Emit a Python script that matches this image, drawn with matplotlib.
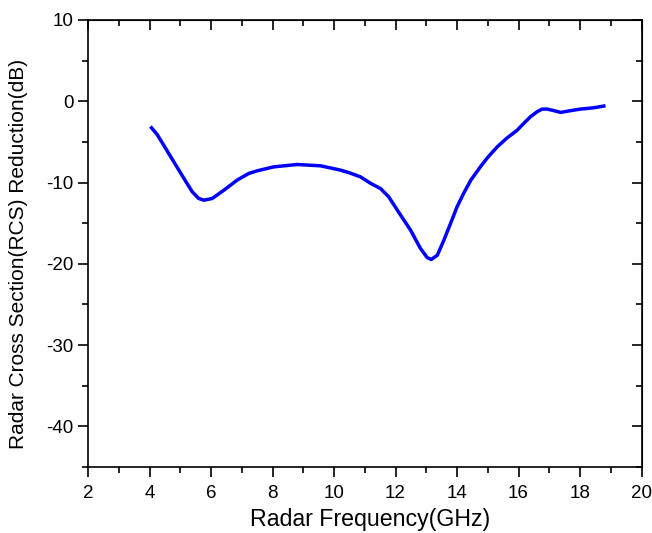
import matplotlib.pyplot as plt

plt.rcParams['font.family'] = ['Liberation Sans', 'DejaVu Sans']
plt.rcParams['axes.unicode_minus'] = False

# values
freq = [4.03, 4.25, 4.46, 4.79, 5.12, 5.39, 5.6, 5.77, 6.04, 6.42, 6.85, 7.23,
        7.5, 8.04, 8.8, 9.56, 10.21, 10.5, 10.86, 11.19, 11.51, 11.78, 12.06,
        12.27, 12.49, 12.81, 13.03, 13.16, 13.36, 13.55, 13.79, 14.0, 14.22,
        14.45, 14.76, 15.0, 15.31, 15.6, 15.96, 16.15, 16.39, 16.6, 16.77, 16.93,
        17.15, 17.37, 17.7, 18.02, 18.45, 18.83]
rcs = [-3.1, -4.1, -5.39, -7.45, -9.5, -11.14, -11.96, -12.17, -11.96, -10.94,
       -9.7, -8.88, -8.56, -8.07, -7.78, -7.94, -8.47, -8.8, -9.3, -10.1, -10.73,
       -11.76, -13.4, -14.6, -15.86, -18.1, -19.23, -19.47, -18.94, -17.3, -15.04,
       -13.0, -11.3, -9.7, -8.07, -6.9, -5.6, -4.6, -3.55, -2.8, -1.9, -1.3,
       -0.96, -0.96, -1.15, -1.37, -1.15, -0.96, -0.8, -0.55]

fig = plt.figure(figsize=(6.52, 5.33), dpi=100)
ax = fig.add_axes([88 / 652, 1 - 467 / 533, 553.5 / 652, 447 / 533])
ax.plot(freq, rcs, color='#0000ff', linewidth=2.5, solid_joinstyle='round',
        solid_capstyle='butt')

ax.set_xlim(2, 20)
ax.set_ylim(-45, 10)
ax.set_xticks(range(2, 21, 2))
ax.set_xticks(range(3, 20, 2), minor=True)
ax.set_yticks(range(-40, 11, 10))
ax.set_yticks(range(-45, 10, 10), minor=True)
ax.tick_params(which='major', direction='out', length=7, width=1.2, labelsize=13.5)
ax.tick_params(which='minor', direction='out', length=4, width=1.2)
ax.tick_params(axis='x', pad=6)
for s in ax.spines.values():
    s.set_linewidth(1.2)

# mirrored ticks on top and right point inward
top = ax.secondary_xaxis('top')
top.set_xticks(range(2, 21, 2))
top.set_xticks(range(3, 20, 2), minor=True)
top.tick_params(which='major', direction='in', length=7, width=1.2, labeltop=False)
top.tick_params(which='minor', direction='in', length=4, width=1.2)
right = ax.secondary_yaxis('right')
right.set_yticks(range(-40, 11, 10))
right.set_yticks(range(-45, 10, 10), minor=True)
right.tick_params(which='major', direction='in', length=7, width=1.2, labelright=False)
right.tick_params(which='minor', direction='in', length=4, width=1.2)

ax.set_xlabel('Radar Frequency(GHz)', fontsize=16.7)
ax.set_ylabel('Radar Cross Section(RCS) Reduction(dB)', fontsize=15)
ax.xaxis.set_label_coords(0.5104, -0.092)
ax.yaxis.set_label_coords(-0.108, 0.4776)

plt.savefig('out.png', dpi=100)
